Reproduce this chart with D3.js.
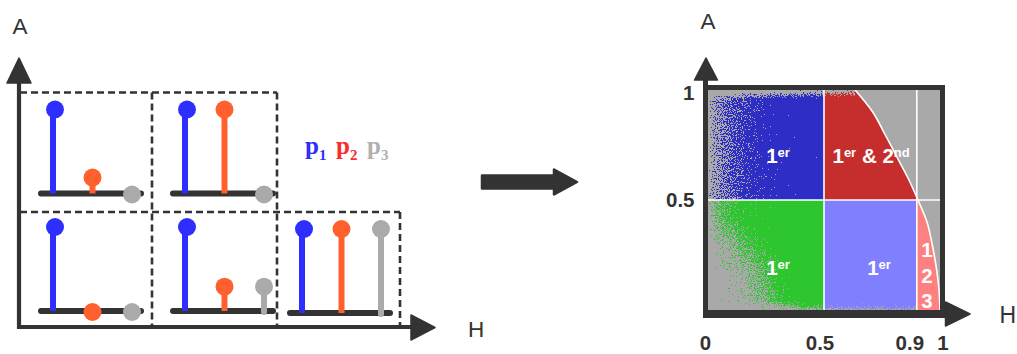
<!DOCTYPE html>
<html><head><meta charset="utf-8">
<script src="https://cdn.jsdelivr.net/npm/d3@7"></script>
<style>html,body{margin:0;padding:0;background:#fff;overflow:hidden}</style>
</head><body><svg id="c" width="1017" height="354"></svg>
<script>
// ---------- data ----------
const cellIds = ["c1", "c2", "c3", "c4", "c5"];
const seriesNames = ["p1", "p2", "p3"];
const p1Values = [1, 1, 1, 1, 1];
const p2Values = [0.19, 1, 0, 0.29, 1];
const p3Values = [0, 0, 0, 0.29, 1];
const legendSubs = ["1", "2", "3"];

const curveA = [1, 0.9, 0.8, 0.7, 0.6, 0.5, 0.4, 0.3, 0.2, 0.1, 0];
const curveH = [0.634, 0.71, 0.762, 0.812, 0.862, 0.905, 0.944, 0.966, 0.983, 0.995, 1.0];
const hSplits = [0.5, 0.9];
const aSplits = [0.5];
const xTickValues = [0, 0.5, 0.9, 1];
const xTickLabels = ["0", "0.5", "0.9", "1"];
const yTickValues = [0.5, 1];
const yTickLabels = ["0.5", "1"];
const zoneMain = ["1", "1", "1", "1"];
const zoneSup = [["er"], ["er", "nd"], ["er"], ["er"]];
const zoneH = [0.302, 0.703, 0.302, 0.737];
const zoneA = [0.668, 0.668, 0.159, 0.159];
const pinkDigits = ["1", "2", "3"];
const pinkDigitA = [0.241, 0.123, 0.009];
const pinkDigitH = 0.944;

// ---------- style / layout ----------
const DARK = "#333333";
const colors = { p1: "#2e2eff", p2: "#ff602e", p3: "#aaaaaa" };
const legendColors = { p1: "#2e2eff", p2: "#ff2b2b", p3: "#b0b0b0" };
const zoneColors = { gray: "#a9a9a9", blue: "#2e2ec6", red: "#c62e2e", green: "#2ec62e", light: "#8080ff", pink: "#ff8080" };
const SANS = "'Liberation Sans', Arial, Helvetica, sans-serif";
const SERIF = "'Liberation Serif', 'Times New Roman', serif";
const cellLayout = [[20, 193.5], [152, 193.5], [20, 311], [152, 311], [269, 313]];

const svg = d3.select("#c");
const defs = svg.append("defs");

// ---------- left schematic ----------
const L = svg.append("g");
const dash = "7 4";
const dashedSegs = [
  [20, 92.5, 277, 92.5], [20, 212, 400, 212],
  [152, 92.5, 152, 327], [277, 92.5, 277, 327], [400, 212, 400, 327]
];
L.selectAll("line.dash").data(dashedSegs).join("line").attr("class", "dash")
  .attr("x1", d => d[0]).attr("y1", d => d[1]).attr("x2", d => d[2]).attr("y2", d => d[3])
  .attr("stroke", DARK).attr("stroke-width", 2.6).attr("stroke-dasharray", dash);

L.append("line").attr("x1", 19).attr("y1", 329).attr("x2", 19).attr("y2", 80)
  .attr("stroke", DARK).attr("stroke-width", 4.2);
L.append("path").attr("d", "M7,83 L31,83 L19,58 Z").attr("fill", DARK)
  .attr("stroke", DARK).attr("stroke-width", 1.5).attr("stroke-linejoin", "round");
L.append("line").attr("x1", 17).attr("y1", 327).attr("x2", 413).attr("y2", 327)
  .attr("stroke", DARK).attr("stroke-width", 4.2);
L.append("path").attr("d", "M411,315 L411,340 L435,327.5 Z").attr("fill", DARK)
  .attr("stroke", DARK).attr("stroke-width", 1.5).attr("stroke-linejoin", "round");
L.append("text").attr("x", 20).attr("y", 34).attr("text-anchor", "middle")
  .attr("font-family", SANS).attr("font-size", 22.5).attr("fill", DARK).text("A");
L.append("text").attr("x", 476).attr("y", 337).attr("text-anchor", "middle")
  .attr("font-family", SANS).attr("font-size", 22.5).attr("fill", DARK).text("H");

const xIn = d3.scalePoint().domain(seriesNames).range([33, 112]);
const yIn = d3.scaleLinear().domain([0, 1]).range([0, -84]);
const cells = cellIds.map((id, i) => ({
  id, left: cellLayout[i][0], base: cellLayout[i][1],
  vals: [p1Values[i], p2Values[i], p3Values[i]]
}));
const cg = L.selectAll("g.cell").data(cells).join("g").attr("class", "cell")
  .attr("transform", d => `translate(${d.left},${d.base})`);
cg.append("line").attr("x1", 21).attr("x2", 121).attr("y1", 0).attr("y2", 0)
  .attr("stroke", DARK).attr("stroke-width", 6).attr("stroke-linecap", "round");
cg.each(function (d) {
  const g = d3.select(this);
  const pts = seriesNames.map((s, j) => ({ s, v: d.vals[j] }));
  g.selectAll("line.stem").data(pts.filter(p => p.v > 0)).join("line").attr("class", "stem")
    .attr("x1", p => xIn(p.s)).attr("x2", p => xIn(p.s))
    .attr("y1", p => p.s === "p3" ? 1 : 0).attr("y2", p => yIn(p.v))
    .attr("stroke", p => colors[p.s]).attr("stroke-width", 6)
    .attr("stroke-linecap", p => p.s === "p3" ? "round" : "butt");
  g.selectAll("circle").data(pts).join("circle")
    .attr("cx", p => xIn(p.s) + (p.s === "p1" ? 2 : 0)).attr("cy", p => yIn(p.v) + (p.v === 0 ? 1 : 0))
    .attr("r", 9).attr("fill", p => colors[p.s]);
});

const xLeg = d3.scalePoint().domain(seriesNames).range([305, 367]);
seriesNames.forEach((s, i) => {
  const t = L.append("text").attr("x", xLeg(s)).attr("y", 154)
    .attr("font-family", SERIF).attr("font-weight", "bold").attr("font-size", 25)
    .attr("fill", legendColors[s]);
  t.append("tspan").text("p");
  t.append("tspan").attr("font-size", 15).attr("dy", 6).text(legendSubs[i]);
});

svg.append("path")
  .attr("d", "M482,175.5 L554,175.5 L554,169.5 L577,182 L554,194.5 L554,188.5 L482,188.5 Z")
  .attr("fill", DARK).attr("stroke", DARK).attr("stroke-width", 2.5).attr("stroke-linejoin", "round");

// ---------- right H/A plane ----------
const R = svg.append("g");
const x = d3.scaleLinear().domain([0, 1]).range([708, 940]);
const y = d3.scaleLinear().domain([0, 1]).range([310, 90]);
const curve = curveA.map((a, i) => ({ A: a, H: curveH[i] }));

R.append("rect").attr("x", x(0)).attr("y", y(1)).attr("width", x(1) - x(0)).attr("height", y(0) - y(1))
  .attr("fill", zoneColors.gray);
const rectZone = (h0, h1, a0, a1, c) => R.append("rect")
  .attr("x", x(h0)).attr("y", y(a1)).attr("width", x(h1) - x(h0)).attr("height", y(a0) - y(a1)).attr("fill", c);
rectZone(0, hSplits[0], aSplits[0], 1, zoneColors.blue);
rectZone(0, hSplits[0], 0, aSplits[0], zoneColors.green);
rectZone(hSplits[0], hSplits[1], 0, aSplits[0], zoneColors.light);

const upper = curve.filter(d => d.A >= aSplits[0]).sort((a, b) => a.A - b.A);
const lower = curve.filter(d => d.A <= aSplits[0]).sort((a, b) => a.A - b.A);
const areaR = d3.area().curve(d3.curveMonotoneY).y(d => y(d.A)).x0(x(hSplits[0])).x1(d => x(d.H));
R.append("path").attr("d", areaR(upper)).attr("fill", zoneColors.red);
const areaP = d3.area().curve(d3.curveMonotoneY).y(d => y(d.A)).x0(x(hSplits[1])).x1(d => x(d.H));
R.append("path").attr("d", areaP(lower)).attr("fill", zoneColors.pink);

// speckled point-cloud edges (procedural noise texture)
const f = defs.append("filter").attr("id", "speck").attr("filterUnits", "userSpaceOnUse")
  .attr("x", 708).attr("y", 90).attr("width", 232).attr("height", 220)
  .attr("color-interpolation-filters", "sRGB");
f.append("feTurbulence").attr("type", "fractalNoise").attr("baseFrequency", 0.85)
  .attr("numOctaves", 2).attr("seed", 7).attr("result", "noise");
f.append("feColorMatrix").attr("in", "noise").attr("type", "matrix")
  .attr("values", "0 0 0 0 0  0 0 0 0 0  0 0 0 0 0  1 0 0 0 0").attr("result", "na");
f.append("feComposite").attr("in", "SourceAlpha").attr("in2", "na").attr("operator", "arithmetic")
  .attr("k1", 0).attr("k2", 1).attr("k3", 1.1).attr("k4", -0.55).attr("result", "sum");
f.append("feComponentTransfer").attr("in", "sum").attr("result", "thr")
  .append("feFuncA").attr("type", "discrete").attr("tableValues", "0 1");
f.append("feFlood").attr("flood-color", zoneColors.gray).attr("result", "fl");
f.append("feComposite").attr("in", "fl").attr("in2", "thr").attr("operator", "in");

function lin(id, x2, y2, stops) {
  const g = defs.append("linearGradient").attr("id", id)
    .attr("x1", 0).attr("y1", 0).attr("x2", x2).attr("y2", y2);
  stops.forEach(s => g.append("stop").attr("offset", s[0]).attr("stop-color", "#000").attr("stop-opacity", s[1]));
}
lin("gl", 1, 0, [[0, 0.85], [0.035, 0.62], [0.15, 0.5], [0.32, 0.36], [0.62, 0.2], [1, 0.1]]);
lin("gl2", 1, 0, [[0, 0.85], [0.035, 0.6], [0.12, 0.45], [0.3, 0.3], [0.6, 0.15], [1, 0.05]]);
lin("gt", 0, 1, [[0, 0.8], [0.4, 0.5], [1, 0]]);
lin("gb", 0, 1, [[0, 0], [0.6, 0.35], [1, 0.6]]);
const rg = defs.append("radialGradient").attr("id", "gr").attr("gradientUnits", "userSpaceOnUse")
  .attr("cx", x(0)).attr("cy", y(0)).attr("r", 95);
[[0, 0.75], [0.4, 0.55], [0.7, 0.33], [1, 0]].forEach(s =>
  rg.append("stop").attr("offset", s[0]).attr("stop-color", "#000").attr("stop-opacity", s[1]));

const sp = R.append("g").attr("filter", "url(#speck)");
const spRect = (h0, h1, a0, a1, fill) => sp.append("rect")
  .attr("x", x(h0)).attr("y", y(a1)).attr("width", x(h1) - x(h0)).attr("height", y(a0) - y(a1)).attr("fill", fill);
spRect(0, 0.5, 0.5, 1, "url(#gl)");
spRect(0, 0.5, 0, 0.5, "url(#gl2)");
spRect(0, 0.5, 0, 0.5, "url(#gr)");
spRect(0, 0.634, 0.955, 1, "url(#gt)");
spRect(0, 0.9, 0, 0.045, "url(#gb)");

hSplits.forEach(h => R.append("line").attr("x1", x(h)).attr("x2", x(h)).attr("y1", y(1)).attr("y2", y(0))
  .attr("stroke", "#fff").attr("stroke-width", 1.6));
aSplits.forEach(a => R.append("line").attr("x1", x(0)).attr("x2", x(1)).attr("y1", y(a)).attr("y2", y(a))
  .attr("stroke", "#fff").attr("stroke-width", 1.6));
const lineC = d3.line().curve(d3.curveMonotoneY).x(d => x(d.H)).y(d => y(d.A));
R.append("path").attr("d", lineC(curve.slice().sort((a, b) => a.A - b.A)))
  .attr("fill", "none").attr("stroke", "#fff").attr("stroke-width", 1.6);

zoneMain.forEach((m, i) => {
  const t = R.append("text").attr("x", x(zoneH[i])).attr("y", y(zoneA[i])).attr("text-anchor", "middle")
    .attr("font-family", SANS).attr("font-weight", "bold").attr("font-size", 20.5).attr("fill", "#fff");
  t.append("tspan").text(m);
  t.append("tspan").attr("font-size", 13).attr("dy", -6).text(zoneSup[i][0]);
  if (zoneSup[i].length > 1) {
    t.append("tspan").attr("dy", 6).text(" & 2");
    t.append("tspan").attr("font-size", 13).attr("dy", -6).text(zoneSup[i][1]);
  }
});
pinkDigits.forEach((d, i) => R.append("text").attr("x", x(pinkDigitH)).attr("y", y(pinkDigitA[i]))
  .attr("text-anchor", "middle").attr("font-family", SANS).attr("font-weight", "bold")
  .attr("font-size", 20.5).attr("fill", "#fff").text(d));

R.append("rect").attr("x", 705.5).attr("y", 87.5).attr("width", 237).attr("height", 225)
  .attr("fill", "none").attr("stroke", DARK).attr("stroke-width", 5);
R.append("line").attr("x1", 705.5).attr("x2", 705.5).attr("y1", 318).attr("y2", 78)
  .attr("stroke", DARK).attr("stroke-width", 5);
R.append("path").attr("d", "M694.5,80 L717.5,80 L706,58 Z").attr("fill", DARK)
  .attr("stroke", DARK).attr("stroke-width", 1.5).attr("stroke-linejoin", "round");
R.append("line").attr("x1", 703).attr("x2", 948).attr("y1", 314).attr("y2", 314)
  .attr("stroke", DARK).attr("stroke-width", 8);
R.append("path").attr("d", "M945.5,302 L945.5,326 L970,314 Z").attr("fill", DARK)
  .attr("stroke", DARK).attr("stroke-width", 1.5).attr("stroke-linejoin", "round");
R.append("text").attr("x", 708).attr("y", 29).attr("text-anchor", "middle")
  .attr("font-family", SANS).attr("font-size", 22.5).attr("fill", DARK).text("A");
R.append("text").attr("x", 1016).attr("y", 323).attr("text-anchor", "end")
  .attr("font-family", SANS).attr("font-size", 23).attr("fill", DARK).text("H");

const xNudge = { "0": -2.5, "0.5": -4, "0.9": -7, "1": 3 };
R.selectAll("text.xt").data(xTickValues).join("text").attr("class", "xt")
  .attr("x", (v, i) => x(v) + xNudge[xTickLabels[i]]).attr("y", 350).attr("text-anchor", "middle")
  .attr("font-family", SANS).attr("font-weight", "bold").attr("font-size", 20.5).attr("fill", DARK)
  .text((v, i) => xTickLabels[i]);
R.selectAll("text.yt").data(yTickValues).join("text").attr("class", "yt")
  .attr("x", 694.5).attr("y", v => y(v) + (v === 1 ? 10 : 7)).attr("text-anchor", "end")
  .attr("font-family", SANS).attr("font-weight", "bold").attr("font-size", 20.5).attr("fill", DARK)
  .text((v, i) => yTickLabels[i]);
</script></body></html>
